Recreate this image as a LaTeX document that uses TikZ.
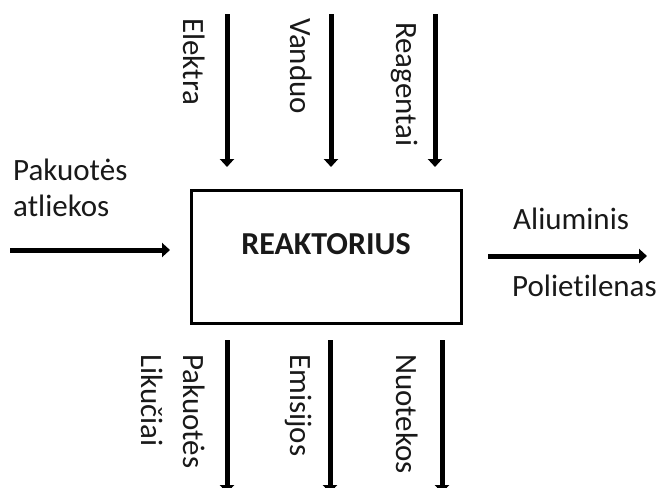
\documentclass[tikz,border=0pt]{standalone}
\usepackage{fontspec}
\setmainfont[Ligatures=NoCommon]{Carlito}
\usetikzlibrary{arrows.meta}

\begin{document}
\begin{tikzpicture}[x=1pt,y=-1pt,>={Triangle[width=14pt,length=8pt]},
                    flow/.style={->,line width=5pt},
                    every node/.style={inner sep=0pt,text=black!90}]
  \tikzstyle{reactor}=[draw,line width=3pt,minimum width=270pt,minimum height=133pt,
                       text height=21pt,text depth=26pt,
                       font=\fontsize{32}{36}\selectfont\bfseries]
  \tikzstyle{side}=[font=\fontsize{31}{36}\selectfont,align=left,anchor=north west]
  \tikzstyle{turned}=[font=\fontsize{31}{42}\selectfont,align=left,rotate=-90,anchor=north west]

  \useasboundingbox (0,0) rectangle (657,488);
  \clip (0,0) rectangle (657,488);

  \node[reactor] (R) at (326,256.5) {REAKTORIUS};

  % inputs from above
  \foreach \x/\dx/\ty/\name/\lbl in {227/22/18/el/Elektra,331/19/18/va/Vanduo,435/17/22/re/Reagentai}{
    \coordinate (\name1) at (\x,14);
    \coordinate (\name2) at (\x,167);
    \draw[flow] (\name1) -- (\name2);
    \node[turned] (\name) at (\x-\dx,\ty) {\lbl};
  }

  % outputs below
  \foreach \x/\dx/\name/\lbl in {227/22/pl/{Pakuotės\\Likučiai},330/18/em/Emisijos,442/24/nu/Nuotekos}{
    \coordinate (\name1) at (\x,340);
    \coordinate (\name2) at (\x,493);
    \draw[flow] (\name1) -- (\name2);
    \node[turned] (\name) at (\x-\dx,354) {\lbl};
  }

  % waste in, products out
  \coordinate (in1) at (10,250);
  \coordinate (in2) at (170,250);
  \draw[flow] (in1) -- (in2);
  \node[side] (pa) at (13,159) {Pakuotės\\atliekos};

  \coordinate (out1) at (488,256);
  \coordinate (out2) at (647,256);
  \draw[flow] (out1) -- (out2);
  \node[side] (al) at (513,208) {Aliuminis};
  \node[side] (po) at (512,275) {Polietilenas};
\end{tikzpicture}
\end{document}
